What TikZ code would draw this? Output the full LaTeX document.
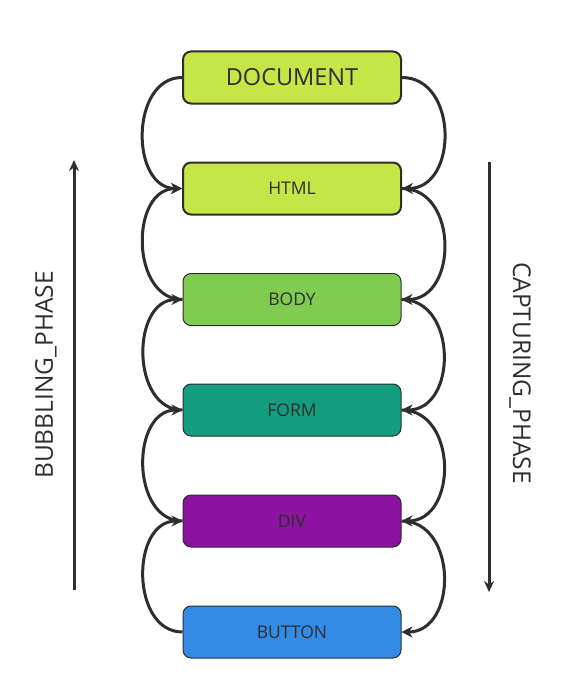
\documentclass[tikz,border=0pt]{standalone}
\usepackage{fontspec}
\setmainfont{Open Sans}
\usetikzlibrary{positioning,arrows.meta}
\definecolor{inkgrey}{HTML}{2E2E2E}
\definecolor{limefill}{HTML}{C6E547}
\definecolor{greenfill}{HTML}{80CC50}
\definecolor{tealfill}{HTML}{139C7E}
\definecolor{purplefill}{HTML}{8B13A0}
\definecolor{bluefill}{HTML}{348BE5}

\begin{document}
\begin{tikzpicture}[x=1pt,y=-1pt,
  tag/.style={draw=inkgrey,rounded corners=8pt,minimum width=218pt,minimum height=52pt,
    text=inkgrey,font=\fontsize{17.5}{20}\selectfont,line width=1pt},
  link/.style={draw=inkgrey,line width=3pt,-{Stealth[length=11pt,width=11pt]}},
  phase/.style={draw=inkgrey,line width=3pt,-{Stealth[length=11pt,width=10pt]}}]
\useasboundingbox (0,0) rectangle (577,685);
% event targets, outermost first
\node[tag,fill=limefill,line width=2pt,font=\fontsize{23.5}{26}\selectfont] (document) at (292,77.5) {DOCUMENT};
\node[tag,fill=limefill,line width=2pt] (html) at (292,188.5) {HTML};
\node[tag,fill=greenfill] (body) at (292,299.5) {BODY};
\node[tag,fill=tealfill] (form) at (292,410) {FORM};
\node[tag,fill=purplefill] (div) at (292,521) {DIV};
\node[tag,fill=bluefill] (button) at (292,632) {BUTTON};
% left side: bubbling up
\draw[link] (document.west) to[out=180,in=180,looseness=1.2] (html.west);
\draw[link] (body.west) to[out=180,in=180,looseness=1.2] (html.west);
\draw[link] (form.west) to[out=180,in=180,looseness=1.2] (body.west);
\draw[link] (div.west) to[out=180,in=180,looseness=1.2] (form.west);
\draw[link] (button.west) to[out=180,in=180,looseness=1.2] (div.west);
% right side: capturing down
\draw[link] (document.east) to[out=0,in=0,looseness=1.3] (html.east);
\draw[link] (html.east) to[out=0,in=0,looseness=1.3] (body.east);
\draw[link] (body.east) to[out=0,in=0,looseness=1.3] (form.east);
\draw[link] (form.east) to[out=0,in=0,looseness=1.3] (div.east);
\draw[link] (div.east) to[out=0,in=0,looseness=1.3] (button.east);
% phase arrows
\coordinate (bubble-from) at (74,590);
\coordinate (bubble-to) at (74,160);
\coordinate (capture-from) at (489,162);
\coordinate (capture-to) at (489,592);
\draw[phase] (bubble-from) -- (bubble-to);
\draw[phase] (capture-from) -- (capture-to);
\node[rotate=90,text=inkgrey,font=\fontsize{24.5}{28}\selectfont] (bubbling) at (46,375) {BUBBLING\_PHASE};
\node[rotate=-90,text=inkgrey,font=\fontsize{24.5}{28}\selectfont] (capturing) at (520,373) {CAPTURING\_PHASE};
\end{tikzpicture}
\end{document}
